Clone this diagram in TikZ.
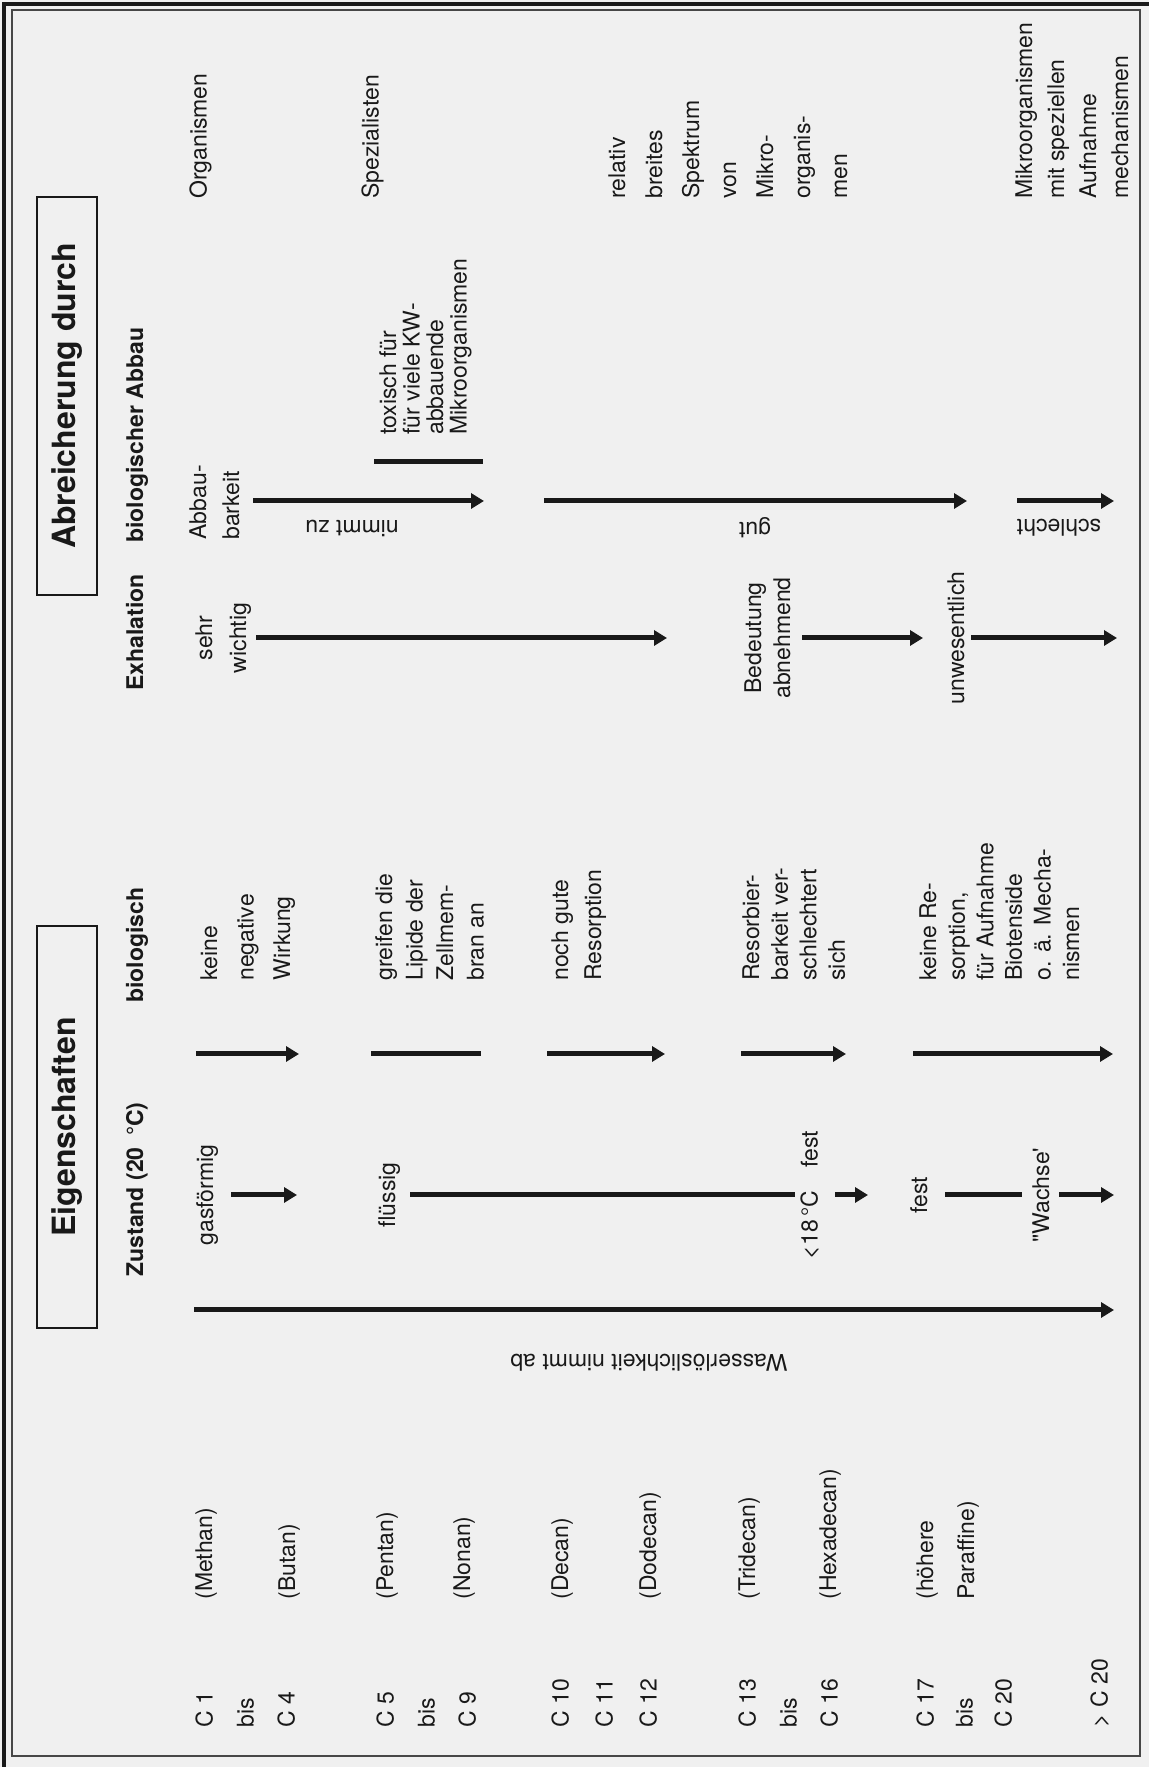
\documentclass[tikz,border=0pt]{standalone}
\usepackage{fontspec}
\setmainfont{TeX Gyre Heros}
\usetikzlibrary{arrows.meta}
\definecolor{paper}{gray}{0.94}
\definecolor{ink}{gray}{0.1}

\begin{document}
\begin{tikzpicture}[
    x=0.5pt,
    y=0.5pt,
    >={Triangle[length=6.5pt, width=7.5pt]},
    arr/.style={line width=2.5pt, ink},
    txt/.style={anchor=north west, inner sep=0pt, align=left, text=ink,
        font=\fontsize{11.5}{#1}\selectfont},
    txt/.default=14,
    txtc/.style={txt=#1, anchor=north, align=center},
    txtc/.default=14,
    colhead/.style={anchor=base west, inner sep=0pt, text=ink,
        font=\fontsize{11.5}{14}\selectfont\bfseries},
    headbox/.style={draw=ink, line width=0.75pt, inner sep=0pt, minimum height=30pt,
        text=ink, font=\fontsize{16}{19}\selectfont\bfseries},
    trendlabel/.style={rotate=90, inner sep=0pt, text=ink,
        font=\fontsize{11.5}{14}\selectfont}
]
    \fill[paper] (0,0) rectangle (1149,1767);
    \useasboundingbox (0,0) rectangle (1149,1767);
    \begin{scope}[shift={(1149,0)}, rotate=90, transform shape]
    \draw[ink, line width=1.6pt] (0,1145) -- (1763,1145) -- (1763,0);
    \draw[ink!80, line width=0.7pt] (11,9) rectangle (1757,1137);
    \node[headbox, minimum width=201pt] (eigen) at (640,1082) {Eigenschaften};
    \node[headbox, minimum width=199pt] (abreich) at (1371,1082) {Abreicherung durch};
    \node[colhead] (zustand) at (490,1006) {Zustand (20\enspace°C)};
    \node[colhead] (biolog) at (764,1006) {biologisch};
    \node[colhead] (exhal) at (1076,1006) {Exhalation};
    \node[colhead] (abbau) at (1224,1006) {biologischer Abbau};
    \node[txt=20.5] (c1) at (39,954) {C 1\\bis\\C 4};
    \node[txt=20.5] (c5) at (39,773) {C 5\\bis\\C 9};
    \node[txt=22] (c10) at (39,598) {C 10\\C 11\\C 12};
    \node[txt=20.5] (c13) at (39,411) {C 13\\bis\\C 16};
    \node[txt=19.5] (c17) at (39,233) {C 17\\bis\\C 20};
    \node[txt] (c20) at (39,59) {> C 20};
    \node[txt] (methan) at (167,954) {(Methan)};
    \node[txt] (butan) at (167,871) {(Butan)};
    \node[txt] (pentan) at (167,773) {(Pentan)};
    \node[txt] (nonan) at (167,696) {(Nonan)};
    \node[txt] (decan) at (167,598) {(Decan)};
    \node[txt] (dodecan) at (167,510) {(Dodecan)};
    \node[txt] (tridecan) at (167,411) {(Tridecan)};
    \node[txt] (hexadecan) at (167,330) {(Hexadecan)};
    \node[txt=20.5] (paraffin) at (167,233) {(höhere\\Paraffine)};
    \draw[arr, ->] (457,955) -- (457,35);
    \node[trendlabel] (wasser) at (404,500) {Wasserlöslichkeit nimmt ab};
    \node[txtc] (gas) at (572,953) {gasförmig};
    \node[txtc] (fluessig) at (572,771) {flüssig};
    \node[txtc] (unter18) at (572,349) {<18\,°C\quad fest};
    \node[txtc] (fest) at (572,239) {fest};
    \node[txtc] (wachse) at (572,117) {\textquotedbl Wachse\textquotesingle};
    \draw[arr, ->] (572,918) -- (572,852);
    \draw[arr] (572,739) -- (572,354);
    \draw[arr, ->] (572,314) -- (572,281);
    \draw[arr] (572,204) -- (572,127);
    \draw[arr, ->] (572,90) -- (572,35);
    \node[txt=18.25] (keine) at (786,949) {keine\\negative\\Wirkung};
    \node[txt=15.25] (greifen) at (786,774) {greifen die\\Lipide der\\Zellmem-\\bran an};
    \node[txt=16.5] (nochgut) at (786,598) {noch gute\\Resorption};
    \node[txt=14.3] (resorb) at (786,407) {Resorbier-\\barkeit ver-\\schlechtert\\sich};
    \node[txt=14.3] (keinere) at (786,230) {keine Re-\\sorption,\\für Aufnahme\\Biotenside\\o. ä. Mecha-\\nismen};
    \draw[arr, ->] (713,953) -- (713,850);
    \draw[arr] (713,778) -- (713,668);
    \draw[arr, ->] (713,602) -- (713,484);
    \draw[arr, ->] (713,408) -- (713,303);
    \draw[arr, ->] (713,236) -- (713,36);
    \node[txtc=17] (wichtig) at (1129,954) {sehr\\wichtig};
    \node[txtc=14.5] (abnehm) at (1129,405) {Bedeutung\\abnehmend};
    \node[txtc] (unwes) at (1129,202) {unwesentlich};
    \draw[arr, ->] (1129,893) -- (1129,482);
    \draw[arr, ->] (1129,347) -- (1129,226);
    \draw[arr, ->] (1129,178) -- (1129,32);
    \node[txt=16.5] (barkeit) at (1227,960) {Abbau-\\barkeit};
    \draw[arr, ->] (1266,896) -- (1266,665);
    \draw[arr, ->] (1266,605) -- (1266,182);
    \draw[arr, ->] (1266,132) -- (1266,35);
    \node[trendlabel] (nimmtzu) at (1239,797) {nimmt zu};
    \node[trendlabel] (gut) at (1239,394) {gut};
    \node[trendlabel] (schlecht) at (1239,90) {schlecht};
    \draw[arr] (1305,775) -- (1305,666);
    \node[txt=11.75] (toxisch) at (1332,770) {toxisch für\\für viele KW-\\abbauende\\Mikroorganismen};
    \node[txt] (organism) at (1568,960) {Organismen};
    \node[txt] (spezial) at (1568,788) {Spezialisten};
    \node[txt=18.5] (spektrum) at (1568,541) {relativ\\breites\\Spektrum\\von\\Mikro-\\organis-\\men};
    \node[txt=16] (mikro) at (1568,134) {Mikroorganismen\\mit speziellen\\Aufnahme\\mechanismen};
    \end{scope}
\end{tikzpicture}
\end{document}
